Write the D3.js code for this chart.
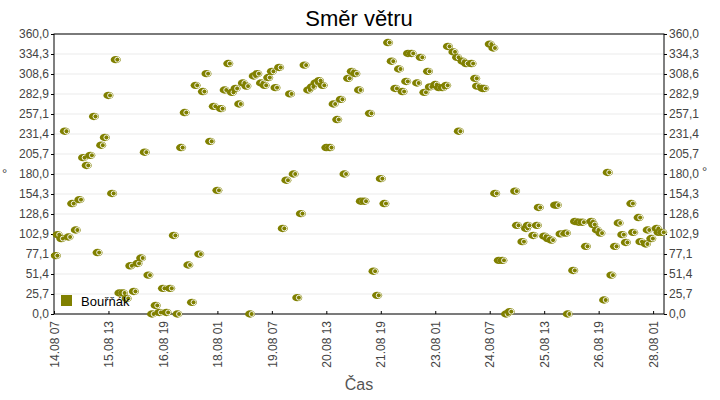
<!DOCTYPE html>
<html>
<head>
<meta charset="utf-8">
<script src="https://cdn.jsdelivr.net/npm/d3@7"></script>
<style>
    body { margin: 0; background: #fff; }
    text { font-family: "Liberation Sans", Arial, sans-serif; }
</style>
</head>
<body>
<svg id="chart"></svg>
<script>
const width = 720;
const height = 400;

// start of the series, and hours after it for every reading
const startTime = '14.08 07:00';
const endTime = '28.08 07:00';
const hourOffsets = [
    1, 2, 4, 6, 8, 10, 12, 14, 16, 18, 20, 22, 24, 26, 28, 30, 32, 34, 36, 38,
    40, 42, 44, 46, 48, 50, 52, 54, 56, 58, 60, 62, 64, 66, 68, 70, 72, 74, 76, 78,
    80, 82, 84, 86, 88, 90, 92, 94, 96, 98, 100, 102, 104, 106, 108, 110, 112, 114, 116, 118,
    120, 122, 124, 126, 128, 130, 132, 134, 136, 138, 140, 142, 144, 146, 148, 150, 152, 154, 156, 158,
    160, 162, 164, 166, 168, 169, 171, 174, 176, 178, 180, 182, 184, 186, 188, 190, 192, 194, 195, 197,
    200, 202, 204, 206, 207, 210, 212, 214, 216, 217, 220, 222, 223, 225, 227, 230, 232, 233, 236, 237,
    240, 242, 243, 245, 247, 249, 251, 254, 255, 258, 260, 261, 264, 266, 267, 270, 272, 274, 276, 277,
    279, 282, 283, 286, 287, 289, 291, 293, 296, 297, 299, 301, 303, 305, 307, 309, 311, 313, 315, 318,
    319, 322, 323, 326, 327, 329, 332, 333, 335
];
const directions = [
    75, 102, 97, 235, 99, 142, 108, 147, 201, 191, 204, 254, 79, 217, 227, 281, 155, 327, 27, 27,
    20, 62, 29, 65, 72, 208, 50, 0, 11, 2, 33, 2, 33, 101, 0, 214, 259, 63, 15, 294,
    77, 286, 309, 222, 267, 159, 264, 288, 322, 285, 290, 270, 297, 293, 0, 306, 309, 297, 294, 304,
    312, 291, 317, 110, 172, 283, 180, 21, 129, 320, 288, 292, 297, 300, 294, 214, 214, 270, 250, 276,
    180, 303, 312, 309, 288, 145, 145, 258, 55, 24, 174, 142, 349, 325, 290, 315, 286, 299, 335, 335,
    297, 330, 285, 312, 292, 295, 291, 291, 294, 344, 337, 330, 235, 325, 322, 322, 303, 293, 290, 290,
    347, 342, 155, 69, 69, 0, 3, 158, 114, 93, 110, 114, 101, 114, 137, 100, 97, 95, 140, 140,
    103, 104, 0, 56, 119, 118, 118, 87, 119, 115, 108, 104, 18, 182, 50, 87, 117, 102, 92, 142,
    105, 124, 93, 90, 108, 97, 110, 105, 105
];
const yTicks = d3.range(15).map(i => i * 360 / 14);
const tickStepHours = 30;
const seriesName = 'Bouřňák';
const olive = '#808000';

const parseTime = d3.timeParse('%d.%m %H:%M');
const start = parseTime(startTime);
const end = parseTime(endTime);
const points = hourOffsets.map((h, i) => ({
    time: d3.timeHour.offset(start, h),
    value: directions[i]
}));

const margin = {top: 34, right: 56, bottom: 86, left: 54};
const innerW = width - margin.left - margin.right;
const innerH = height - margin.top - margin.bottom;

const x = d3.scaleTime().domain([start, end]).range([0, innerW]);
const y = d3.scaleLinear().domain([0, 360]).range([innerH, 0]);

const czech = d3.formatLocale({decimal: ',', thousands: ' ', grouping: [3], currency: ['', ' Kč']});
const fmt = czech.format('.1f');
const timeFmt = d3.timeFormat('%d.%m %H');

const svg = d3.select('#chart')
    .attr('width', width)
    .attr('height', height);

svg.append('text')
    .attr('x', margin.left + innerW / 2)
    .attr('y', 26)
    .attr('text-anchor', 'middle')
    .style('font-size', '22px')
    .attr('fill', '#000')
    .text('Směr větru');

const g = svg.append('g')
    .attr('transform', `translate(${margin.left},${margin.top})`);

// grid
g.selectAll('line.grid')
    .data(yTicks)
    .enter().append('line')
    .attr('class', 'grid')
    .attr('x1', 0)
    .attr('x2', innerW)
    .attr('y1', d => y(d))
    .attr('y2', d => y(d))
    .attr('stroke', '#ebebeb')
    .attr('stroke-width', 1);

const xTicks = [];
for (let t = start; t <= end; t = d3.timeHour.offset(t, tickStepHours)) xTicks.push(t);

const styleAxis = sel => {
    sel.select('.domain').remove();
    sel.selectAll('line').attr('stroke', '#000');
    sel.selectAll('text')
        .attr('fill', '#444')
        .style('font-size', '12px');
};

g.append('g')
    .call(d3.axisLeft(y).tickValues(yTicks).tickFormat(fmt).tickSize(3).tickPadding(2))
    .call(styleAxis);

g.append('g')
    .attr('transform', `translate(${innerW},0)`)
    .call(d3.axisRight(y).tickValues(yTicks).tickFormat(fmt).tickSize(3).tickPadding(2))
    .call(styleAxis);

const xAxis = g.append('g')
    .attr('transform', `translate(0,${innerH})`)
    .call(d3.axisBottom(x).tickValues(xTicks).tickFormat(timeFmt).tickSize(-3).tickPadding(0))
    .call(styleAxis);

xAxis.selectAll('text')
    .attr('transform', 'rotate(-90)')
    .attr('text-anchor', 'end')
    .attr('x', -7)
    .attr('y', 0)
    .attr('dy', '0.35em');

// frame
g.append('rect')
    .attr('width', innerW)
    .attr('height', innerH)
    .attr('fill', 'none')
    .attr('stroke', '#000')
    .attr('stroke-width', 1);

// points
const node = g.selectAll('g.pt')
    .data(points)
    .enter().append('g')
    .attr('class', 'pt')
    .attr('transform', d => `translate(${x(d.time)},${y(d.value)})`);

node.append('ellipse')
    .attr('rx', 5)
    .attr('ry', 3.7)
    .attr('fill', olive);

node.append('circle')
    .attr('cx', 1.6)
    .attr('r', 2.5)
    .attr('fill', 'none')
    .attr('stroke', '#fff')
    .attr('stroke-width', 0.9);

// legend
g.append('rect')
    .attr('x', 7)
    .attr('y', innerH - 19)
    .attr('width', 11)
    .attr('height', 11)
    .attr('fill', olive);

g.append('text')
    .attr('x', 27)
    .attr('y', innerH - 8)
    .style('font-size', '13px')
    .attr('fill', '#000')
    .text(seriesName);

// axis titles
svg.append('text')
    .attr('x', margin.left + innerW / 2)
    .attr('y', 390)
    .attr('text-anchor', 'middle')
    .style('font-size', '16px')
    .attr('fill', '#555')
    .text('Čas');

svg.append('text')
    .attr('x', 2)
    .attr('y', 178)
    .style('font-size', '13px')
    .attr('fill', '#444')
    .text('°');

svg.append('text')
    .attr('x', 702)
    .attr('y', 176)
    .style('font-size', '13px')
    .attr('fill', '#444')
    .text('°');
</script>
</body>
</html>
